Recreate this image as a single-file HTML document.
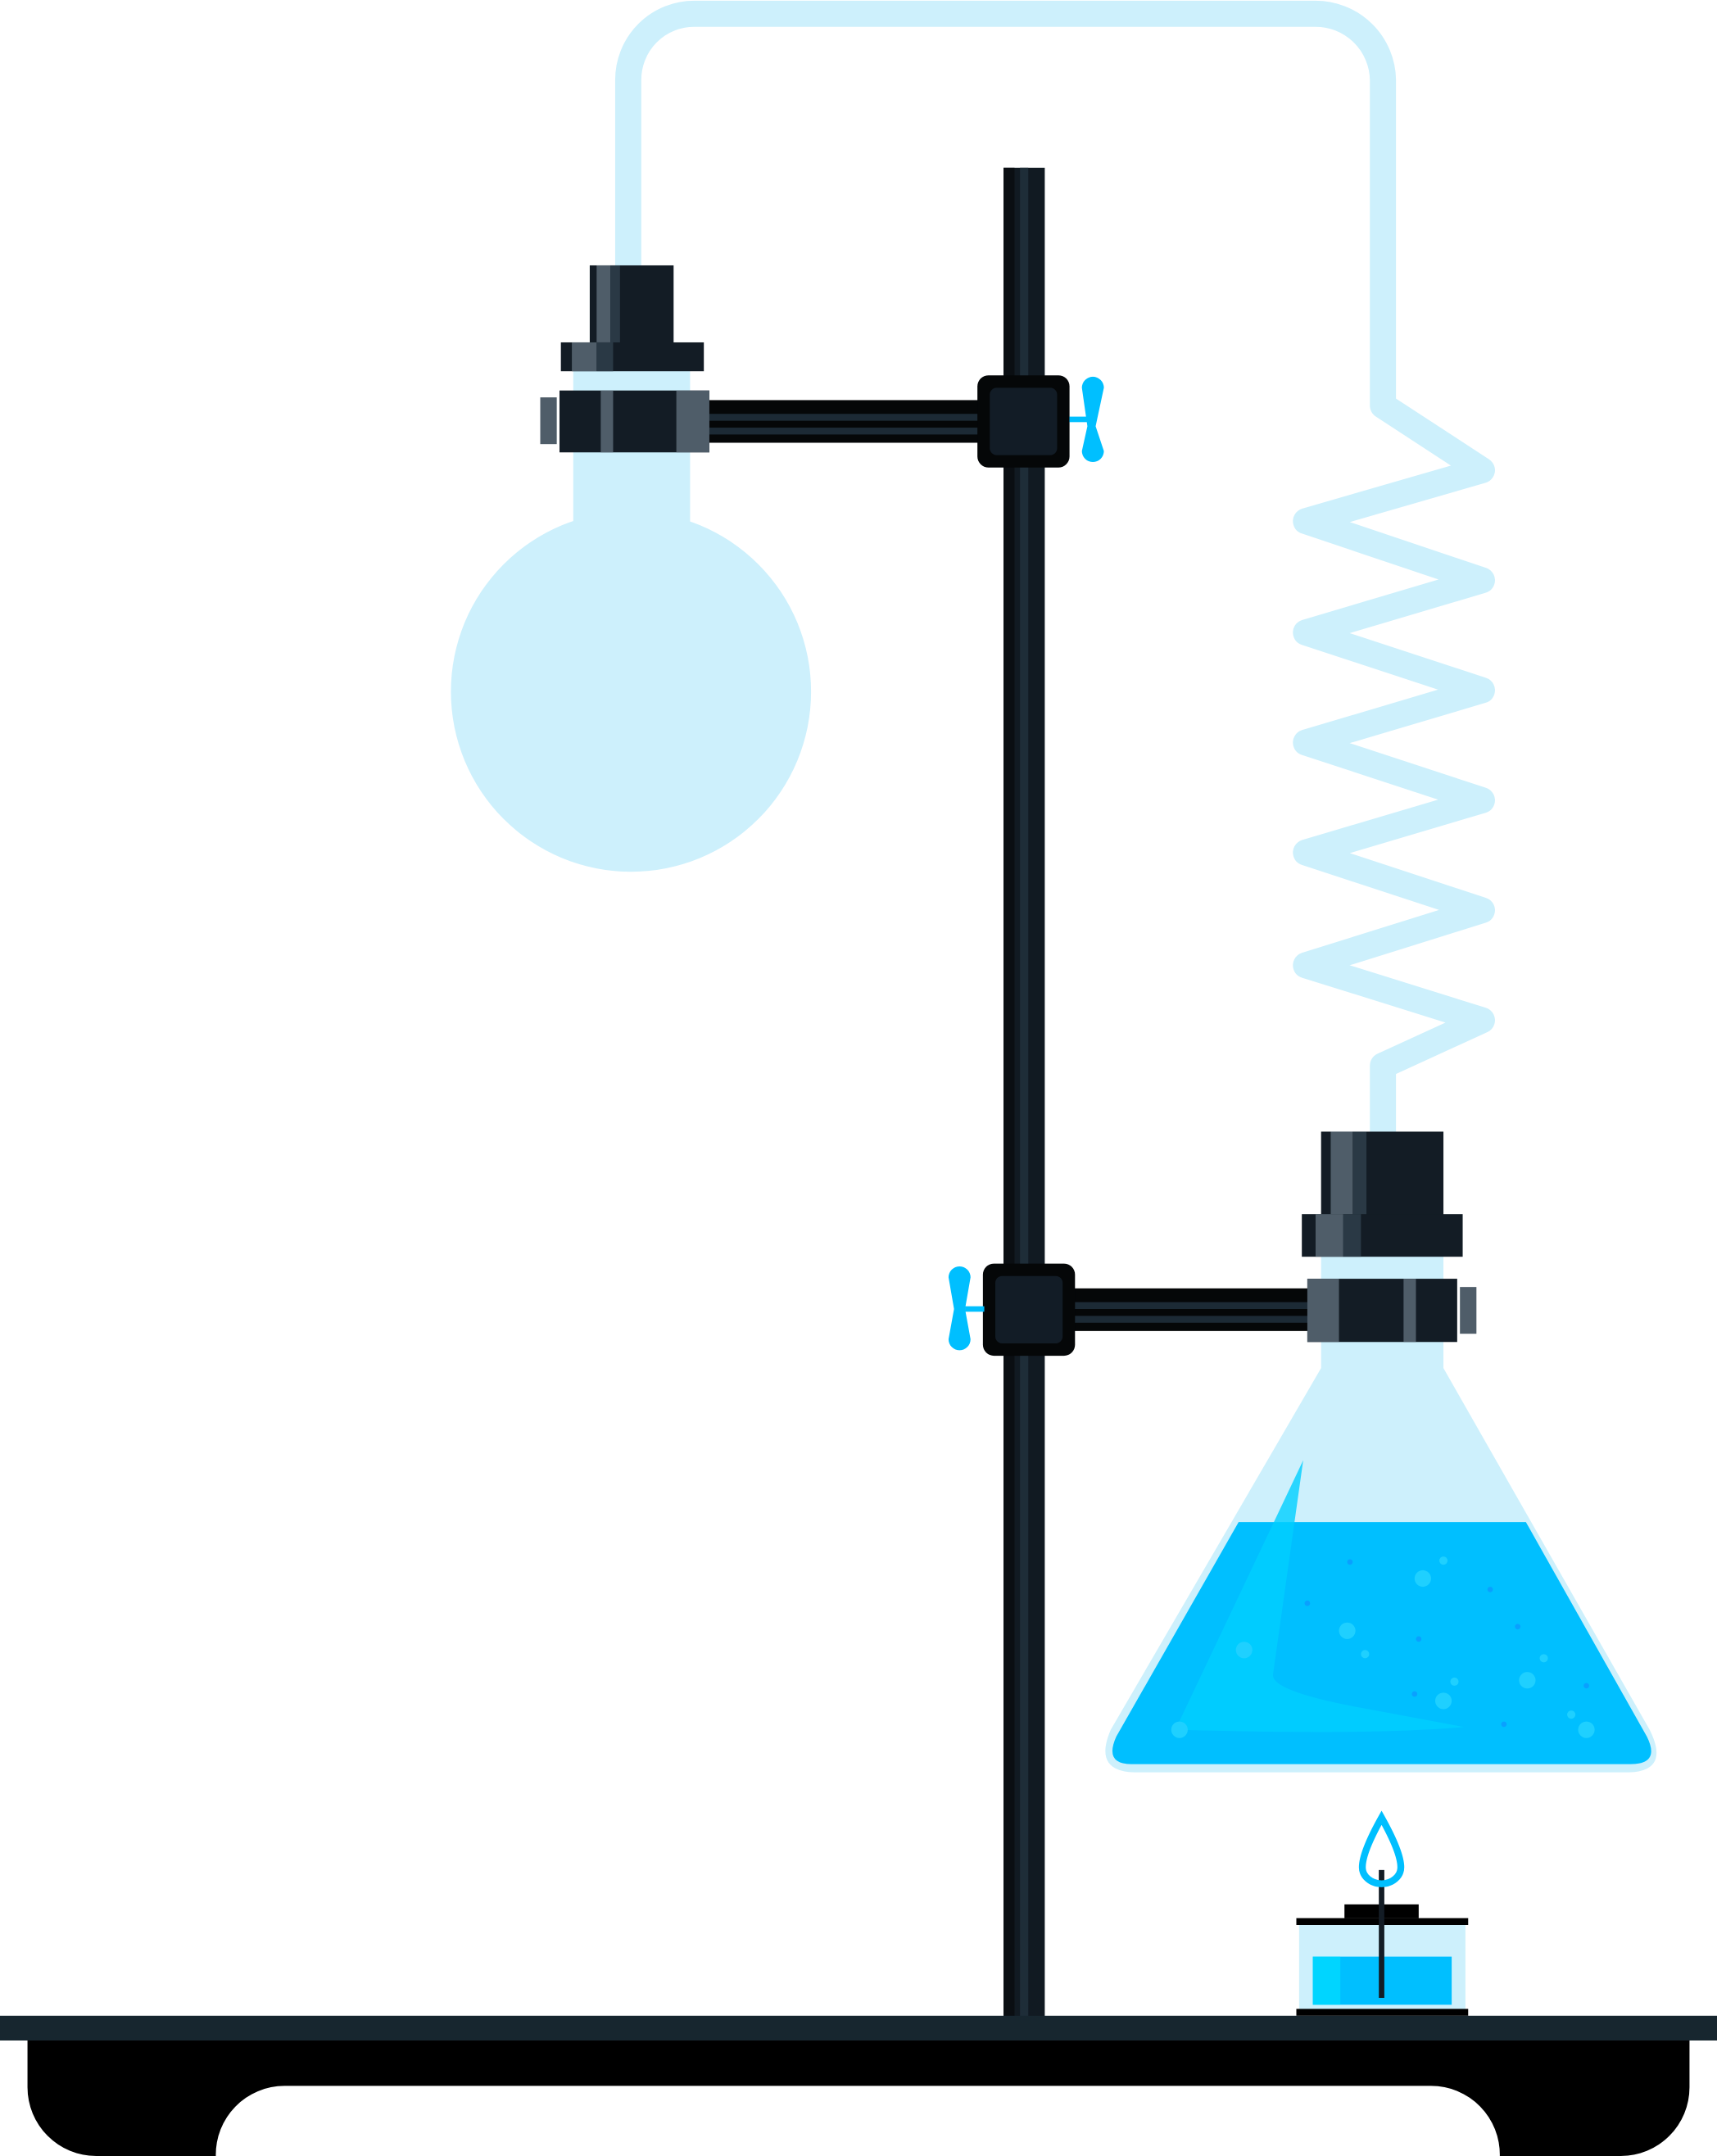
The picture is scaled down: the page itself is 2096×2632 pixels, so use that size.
<!DOCTYPE html>
<html><head><style>html,body{margin:0;padding:0;background:#fff}svg{display:block}</style></head>
<body>
<svg width="2096" height="2632" viewBox="0 0 1249 1568" preserveAspectRatio="none" xmlns="http://www.w3.org/2000/svg">
<!-- tube -->
<path d="M457,200 V58 A48,48 0 0 1 505,10 H957 A49,49 0 0 1 1006,58 V295 L1078,342 L950,379 L1078,422 L950,460 L1078,502 L950,540 L1078,582 L950,620 L1078,662 L950,702 L1078,742 L1006,775 V830" fill="none" stroke="#cdf0fc" stroke-width="19" stroke-linejoin="round" stroke-linecap="round"/>
<!-- rod -->
<rect x="730" y="122" width="30" height="1346" fill="#111a22"/>
<rect x="730" y="122" width="8" height="1346" fill="#0a0e12"/>
<rect x="742" y="122" width="6" height="1346" fill="#1e2d38"/>
<!-- upper flask -->
<rect x="417" y="268" width="85" height="125" fill="#cdf0fc"/>
<circle cx="459" cy="503" r="131" fill="#cdf0fc"/>
<!-- upper stopper -->
<rect x="429" y="193" width="61" height="57" fill="#131c25"/>
<rect x="434" y="193" width="10" height="57" fill="#4f5d69"/>
<rect x="444" y="193" width="7" height="57" fill="#2a3945"/>
<rect x="408" y="249" width="104" height="21" fill="#131c25"/>
<rect x="416" y="249" width="18" height="21" fill="#4f5d69"/>
<rect x="434" y="249" width="12" height="21" fill="#2a3945"/>
<!-- upper arm -->
<rect x="512" y="291" width="202" height="31" fill="#050708"/>
<rect x="512" y="301" width="202" height="5" fill="#1c2a35"/>
<rect x="512" y="311" width="202" height="5" fill="#1c2a35"/>
<rect x="393" y="289" width="12" height="34" fill="#4f5d69"/>
<rect x="407" y="284" width="109" height="45" fill="#131c25"/>
<rect x="437" y="284" width="9" height="45" fill="#4f5d69"/>
<rect x="492" y="284" width="24" height="45" fill="#4f5d69"/>
<!-- upper clamp block -->
<rect x="711" y="273" width="67" height="67" rx="8" fill="#050708"/>
<rect x="720" y="282" width="49" height="49" rx="5" fill="#121c26"/>
<rect x="778" y="303" width="14" height="4" fill="#00bfff"/>
<path d="M787,282 A8,8 0 0 1 803,282 L797,310 L803,328 A8,8 0 0 1 787,328 L791,310 Z" fill="#00bfff"/>
<!-- lower arm -->
<rect x="778" y="937" width="176" height="31" fill="#050708"/>
<rect x="778" y="947" width="176" height="5" fill="#1c2a35"/>
<rect x="778" y="957" width="176" height="5" fill="#1c2a35"/>
<!-- lower clamp block -->
<rect x="715" y="919" width="67" height="67" rx="8" fill="#050708"/>
<rect x="724" y="928" width="49" height="49" rx="5" fill="#121c26"/>
<rect x="702" y="950" width="14" height="4" fill="#00bfff"/>
<path d="M690,929 A8,8 0 0 1 706,929 L702,952 L706,974 A8,8 0 0 1 690,974 L694,952 Z" fill="#00bfff"/>
<!-- erlenmeyer -->
<path d="M961,905 H1050 V995 L1200,1258 Q1215,1288 1185,1289 H825 Q795,1288 808,1258 L961,995 Z" fill="#cdf0fc"/>
<path d="M901,1107 H1110 L1198,1263 Q1208,1283 1186,1283 H823 Q803,1283 812,1263 Z" fill="#00bfff"/>
<path d="M948,1062 L926,1218 Q925,1230 990,1242 L1065,1256 Q1000,1262 855,1258 Z" fill="#00d0ff" opacity="0.8"/>
<g fill="#1fd0ff"><circle cx="1035" cy="1148" r="6"/><circle cx="980" cy="1186" r="6"/><circle cx="1050" cy="1237" r="6"/><circle cx="1111" cy="1222" r="6"/><circle cx="1154" cy="1258" r="6"/><circle cx="905" cy="1200" r="6"/><circle cx="1050" cy="1135" r="3"/><circle cx="993" cy="1203" r="3"/><circle cx="1123" cy="1206" r="3"/><circle cx="1058" cy="1223" r="3"/><circle cx="1143" cy="1247" r="3"/><circle cx="858" cy="1258" r="6"/></g>
<g fill="#0aa0ff"><circle cx="982" cy="1136" r="2"/><circle cx="951" cy="1166" r="2"/><circle cx="1032" cy="1192" r="2"/><circle cx="1084" cy="1156" r="2"/><circle cx="1104" cy="1183" r="2"/><circle cx="1029" cy="1232" r="2"/><circle cx="1094" cy="1254" r="2"/><circle cx="1154" cy="1226" r="2"/></g>
<!-- lower stopper -->
<rect x="961" y="823" width="89" height="61" fill="#131c25"/>
<rect x="968" y="823" width="16" height="61" fill="#4f5d69"/>
<rect x="984" y="823" width="10" height="61" fill="#2a3945"/>
<rect x="947" y="883" width="117" height="31" fill="#131c25"/>
<rect x="957" y="883" width="20" height="31" fill="#4f5d69"/>
<rect x="977" y="883" width="13" height="31" fill="#2a3945"/>
<rect x="1062" y="936" width="12" height="34" fill="#4f5d69"/>
<rect x="951" y="930" width="109" height="46" fill="#131c25"/>
<rect x="951" y="930" width="23" height="46" fill="#4f5d69"/>
<rect x="1021" y="930" width="9" height="46" fill="#4f5d69"/>
<!-- burner -->
<rect x="945" y="1400" width="121" height="62" fill="#cdf0fc"/>
<rect x="955" y="1423" width="101" height="35" fill="#00bfff"/>
<rect x="955" y="1423" width="20" height="35" fill="#00d5ff"/>
<rect x="943" y="1395" width="125" height="5" fill="#000"/>
<rect x="978" y="1385" width="54" height="10" fill="#000"/>
<rect x="943" y="1461" width="125" height="5" fill="#000"/>
<rect x="1003" y="1360" width="4" height="93" fill="#131c25"/>
<path d="M1005,1322 Q991,1347 991,1358 A14,12 0 0 0 1019,1358 Q1019,1347 1005,1322 Z" fill="none" stroke="#00bfff" stroke-width="5"/>
<!-- base -->
<path d="M20,1484 H1229 V1518 A50,50 0 0 1 1179,1568 H1091 A50,50 0 0 0 1041,1517 H207 A50,50 0 0 0 157,1568 H70 A50,50 0 0 1 20,1518 Z" fill="#000"/>
<rect x="0" y="1466" width="1249" height="18" fill="#17262f"/>
</svg>
</body></html>
